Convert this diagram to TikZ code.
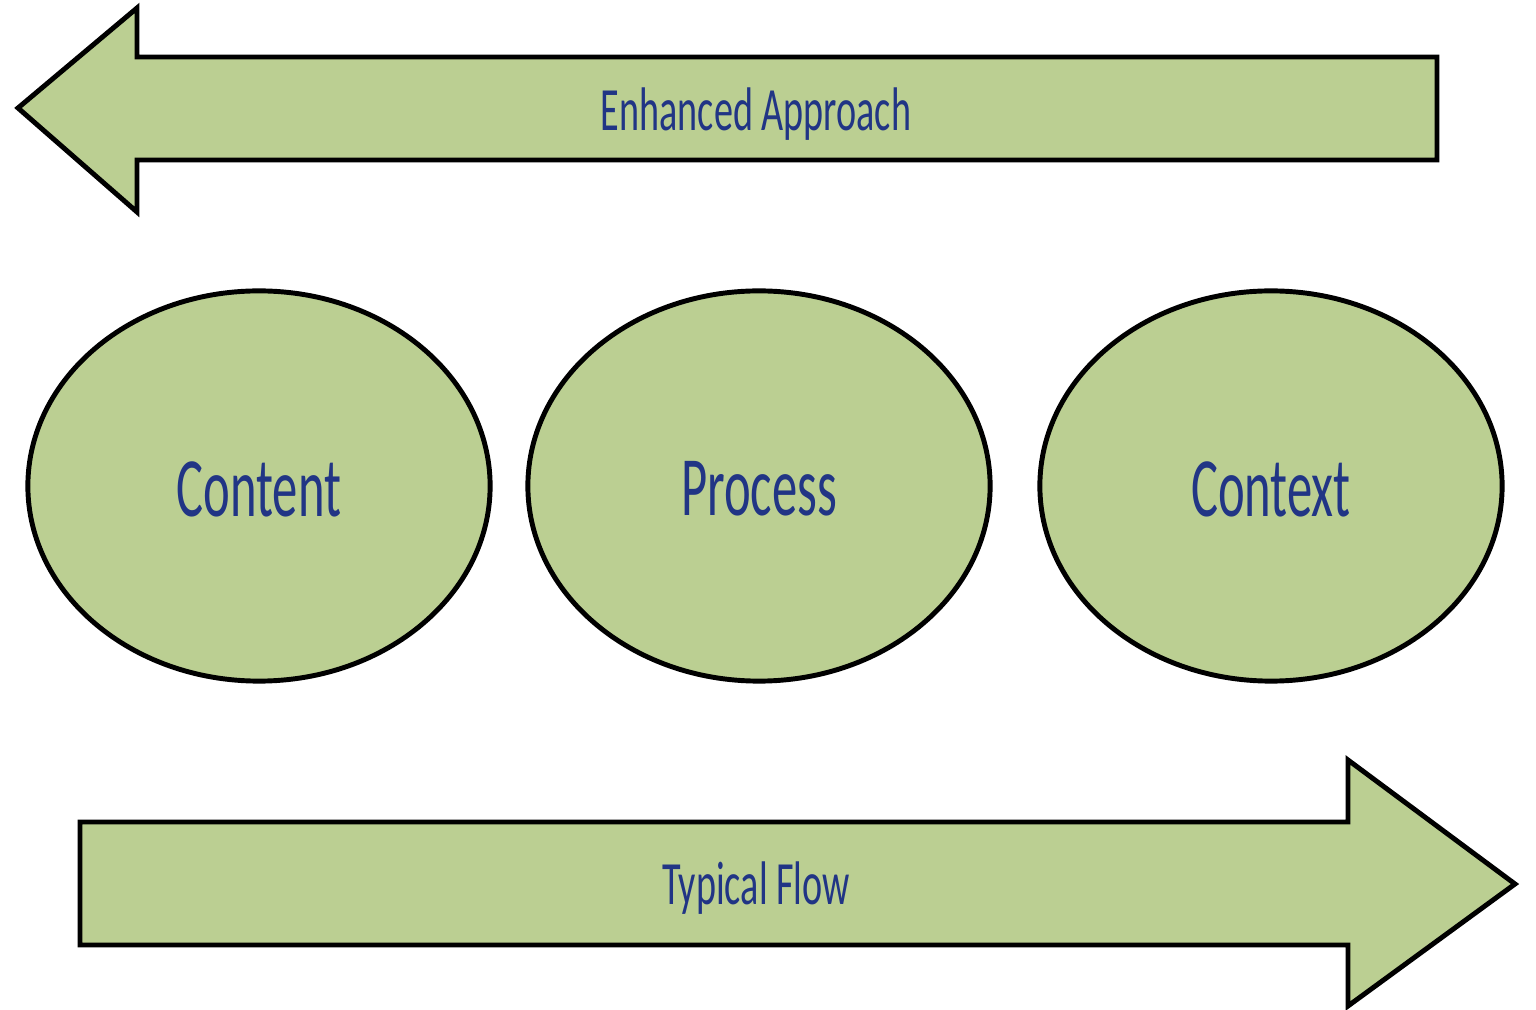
\documentclass[tikz,border=0pt]{standalone}
\usepackage{fontspec}
\setmainfont{Carlito}
\usetikzlibrary{shapes.geometric}

\definecolor{leaf}{HTML}{BBCF92}
\definecolor{ink}{HTML}{213585}

% condensed label text
\newcommand{\narrowtxt}[2][0.62]{\scalebox{#1}[1]{#2}}

\begin{document}
\begin{tikzpicture}[
  x=0.01cm, y=-0.01cm,
  shapeline/.style={draw=black, fill=leaf, line width=1.4pt, line join=miter},
  pillar/.style={shapeline, ellipse, minimum width=4.62cm, minimum height=3.9cm, inner sep=0pt},
  bigtxt/.style={text=ink, font=\fontsize{24}{28}\selectfont},
  bandtxt/.style={text=ink, font=\fontsize{17.5}{20}\selectfont}
]
\useasboundingbox (0,0) rectangle (1536,1010);

% ----- Enhanced approach (pointing left)
\draw[shapeline] (18,108) -- (137,8) -- (137,57) -- (1437,57) -- (1437,160)
  -- (137,160) -- (137,212) -- cycle;
\node[bandtxt] (enh) at (756,114) {\narrowtxt{Enhanced Approach}};

% ----- The three ovals
\node[pillar] (content) at (259,486) {};
\node[pillar] (process) at (759,486) {};
\node[pillar] (context) at (1271,486) {};
\node[bigtxt] at ([yshift=-0.03cm]content) {\narrowtxt[0.6]{Content}};
\node[bigtxt] at ([yshift=-0.03cm]process) {\narrowtxt[0.6]{Process}};
\node[bigtxt] at ([yshift=-0.03cm]context) {\narrowtxt[0.6]{Context}};

% ----- Typical flow (pointing right)
\draw[shapeline] (80,822) -- (1348,822) -- (1348,760) -- (1515,884)
  -- (1348,1006) -- (1348,945) -- (80,945) -- cycle;
\node[bandtxt] (flow) at (756,888) {\narrowtxt{Typical Flow}};

\end{tikzpicture}
\end{document}
